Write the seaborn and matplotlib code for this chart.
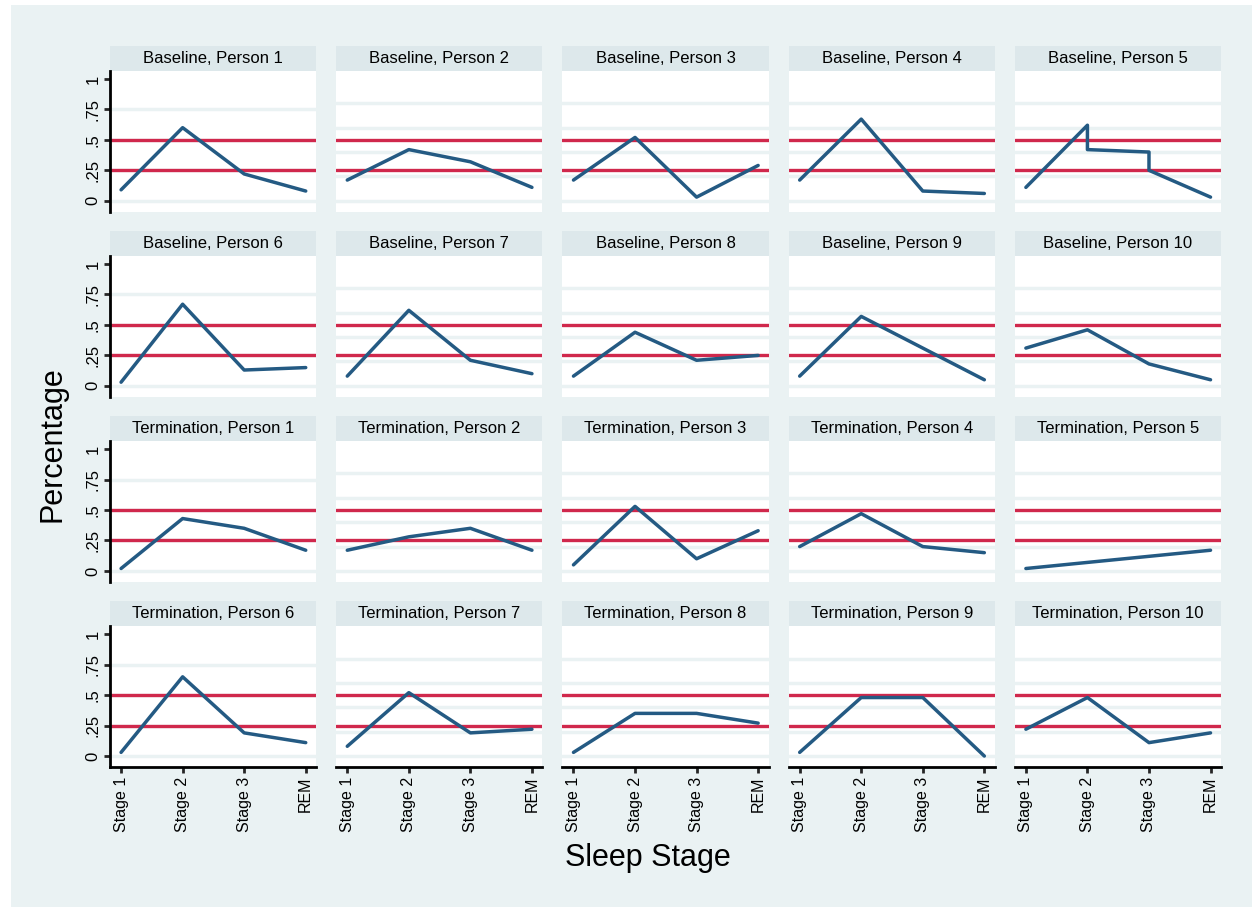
import pandas as pd
import matplotlib.pyplot as plt
import seaborn as sns
from matplotlib.patches import Rectangle

stages = ["Stage 1", "Stage 2", "Stage 3", "REM"]

# share of sleep per stage, persons 1-10 (person 5 handled separately)
baseline_pct = [
    [0.09, 0.60, 0.22, 0.08],
    [0.17, 0.42, 0.32, 0.11],
    [0.17, 0.52, 0.03, 0.29],
    [0.17, 0.67, 0.08, 0.06],
    None,
    [0.03, 0.67, 0.13, 0.15],
    [0.08, 0.62, 0.21, 0.10],
    [0.08, 0.44, 0.21, 0.25],
    [0.08, 0.57, 0.31, 0.05],
    [0.31, 0.46, 0.18, 0.05],
]
termination_pct = [
    [0.02, 0.43, 0.35, 0.17],
    [0.17, 0.28, 0.35, 0.17],
    [0.05, 0.53, 0.10, 0.33],
    [0.20, 0.47, 0.20, 0.15],
    None,
    [0.03, 0.65, 0.19, 0.11],
    [0.08, 0.52, 0.19, 0.22],
    [0.03, 0.35, 0.35, 0.27],
    [0.03, 0.48, 0.48, 0.00],
    [0.22, 0.48, 0.11, 0.19],
]

# person 5 has duplicated / missing records
base_p5_stage = ["Stage 1", "Stage 2", "Stage 2", "Stage 3", "Stage 3", "REM"]
base_p5_pct = [0.11, 0.62, 0.42, 0.40, 0.25, 0.03]
term_p5_stage = ["Stage 1", "REM"]
term_p5_pct = [0.02, 0.17]

rows = []
for phase, pct_lists, p5_stage, p5_pct in [
    ("Baseline", baseline_pct, base_p5_stage, base_p5_pct),
    ("Termination", termination_pct, term_p5_stage, term_p5_pct),
]:
    for i, vals in enumerate(pct_lists):
        person = i + 1
        st = stages
        if person == 5:
            st, vals = p5_stage, p5_pct
        for k, (s, v) in enumerate(zip(st, vals)):
            rows.append({'phase': phase, 'person': person, 'stage': s,
                         'pos': stages.index(s), 'order': k, 'pct': v})
df = pd.DataFrame(rows)

bg = '#eaf2f3'
strip_col = '#dde8eb'
red = '#d0284c'
blue = '#245a83'

sns.set_style("white")
plt.rcParams['font.family'] = ['Liberation Sans', 'DejaVu Sans']

fig, axes = plt.subplots(4, 5, figsize=(12.52, 9.07), dpi=100, sharex=True, sharey=True)
fig.patch.set_facecolor('white')
fig.patches.append(Rectangle((11 / 1252, 0), 1, 1 - 5 / 907, transform=fig.transFigure,
                             facecolor=bg, edgecolor='none', zorder=-10))
fig.subplots_adjust(left=110 / 1252, right=1221 / 1252, top=1 - 71 / 907,
                    bottom=1 - 767 / 907, wspace=0.097, hspace=0.315)

ax_h = 696 / (4 + 3 * 0.315)
strip_h = 25 / ax_h

panels = [("Baseline", p) for p in range(1, 11)] + [("Termination", p) for p in range(1, 11)]
for idx, (phase, person) in enumerate(panels):
    r, c = divmod(idx, 5)
    ax = axes[r, c]
    ax.set_facecolor('white')

    grid = [0, 0.25, 0.5, 0.75] if c == 0 else [0, 0.2, 0.4, 0.6, 0.8]
    for g in grid:
        ax.axhline(g, color=bg, lw=2.5, zorder=1)
    for h in [0.25, 0.5]:
        ax.axhline(h, color=red, lw=2.4, zorder=2)

    sub = df[(df['phase'] == phase) & (df['person'] == person)].sort_values('order')
    sns.lineplot(data=sub, x='pos', y='pct', estimator=None, sort=False,
                 color=blue, linewidth=2.5, ax=ax, legend=False, zorder=3)

    ax.set_xlim(-0.18, 3.17)
    ax.set_ylim(-0.09, 1.065)
    ax.set_xlabel('')
    ax.set_ylabel('')
    for s in ax.spines.values():
        s.set_visible(False)

    ax.add_patch(Rectangle((0, 1), 1, strip_h, transform=ax.transAxes, clip_on=False,
                           facecolor=strip_col, edgecolor='none'))
    ax.text(0.5, 1 + strip_h / 2, f"{phase}, Person {person}", transform=ax.transAxes,
            ha='center', va='center', fontsize=12, color='black')

    ax.set_yticks([0, 0.25, 0.5, 0.75, 1])
    ax.set_yticklabels(['0', '.25', '.5', '.75', '1'])
    ax.set_xticks(range(4))
    ax.set_xticklabels(stages)

    if c == 0:
        ax.spines['left'].set_visible(True)
        ax.spines['left'].set_linewidth(2)
        ax.spines['left'].set_color('black')
        ax.tick_params(axis='y', left=True, length=4, width=2, labelsize=12,
                       labelcolor='black', labelrotation=90, pad=3)
        for lab in ax.get_yticklabels():
            lab.set_va('center')
    else:
        ax.tick_params(axis='y', left=False, labelleft=False)

    if r == 3:
        ax.spines['bottom'].set_visible(True)
        ax.spines['bottom'].set_linewidth(2)
        ax.spines['bottom'].set_color('black')
        ax.tick_params(axis='x', bottom=True, length=4, width=2, labelsize=11.5,
                       labelcolor='black', labelrotation=90, pad=3)
    else:
        ax.tick_params(axis='x', bottom=False, labelbottom=False)

fig.text(53 / 1252, 1 - 444 / 907, 'Percentage', rotation=90, ha='center', va='center',
         fontsize=22, color='black')
fig.text(648 / 1252, 1 - 858 / 907, 'Sleep Stage', ha='center', va='center',
         fontsize=22, color='black')

plt.savefig('out.png', dpi=100, facecolor=fig.get_facecolor())
